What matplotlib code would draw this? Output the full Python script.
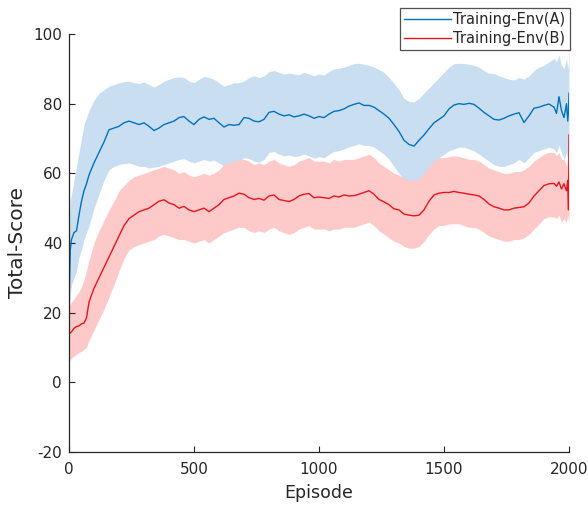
import matplotlib
matplotlib.use("Agg")
import matplotlib.pyplot as plt
import numpy as np

plt.rcParams["axes.unicode_minus"] = False

episodes = [
    0, 5, 10, 20, 30, 40, 50, 60, 70, 80,
    100, 120, 140, 160, 180, 200, 220, 240, 260, 280,
    300, 320, 340, 360, 380, 400, 420, 440, 460, 480,
    500, 520, 540, 560, 580, 600, 620, 640, 660, 680,
    700, 720, 740, 760, 780, 800, 820, 840, 860, 880,
    900, 920, 940, 960, 980, 1000, 1020, 1040, 1060, 1080,
    1100, 1120, 1140, 1160, 1180, 1200, 1220, 1240, 1260, 1280,
    1300, 1320, 1340, 1360, 1380, 1400, 1420, 1440, 1460, 1480,
    1500, 1520, 1540, 1560, 1580, 1600, 1620, 1640, 1660, 1680,
    1700, 1720, 1740, 1760, 1780, 1800, 1820, 1840, 1860, 1880,
    1900, 1920, 1940, 1950, 1960, 1970, 1980, 1990, 1995, 1998,
    2000,
]

env_a_mean = [
    22, 38, 41, 43, 43.5, 48, 52, 55, 57, 59.5,
    63, 66, 69, 72.5, 73, 73.5, 74.5, 75, 74.5, 74,
    74.5, 73.5, 72.3, 73, 74, 74.5, 75, 76, 76.3, 75,
    74, 75.5, 76.2, 75.5, 75.8, 74.5, 73.3, 74, 73.8, 74,
    76, 75.8, 75, 74.8, 75.5, 77.5, 77.8, 77, 76.5, 76.8,
    76.2, 76.5, 77, 76.5, 75.8, 76.3, 76, 77, 77.8, 78,
    78.5, 79.3, 79.8, 80.2, 79.5, 79.5, 79, 78, 77, 75.8,
    74, 72, 69.5, 68.3, 67.8, 69.5, 71, 72.8, 74.5, 75.5,
    76.5, 78.5, 79.6, 80, 79.8, 80.1, 79.8, 78.7, 77.5, 76.5,
    75.5, 75.3, 75.8, 76.5, 77, 77.4, 74.6, 76.5, 78.7, 79,
    79.5, 79.9, 79, 77.2, 82, 78, 76, 80, 75, 78,
    83,
]
env_a_upper = [
    45, 52, 54, 58, 62, 66, 70, 74, 76, 78,
    81, 83, 84, 85, 85.5, 86, 86.3, 86.5, 86, 85.8,
    86.2, 85.5, 84.8, 85.5, 86.5, 87, 87.5, 87.7, 87.5, 86.5,
    86, 87, 87.8, 87.5, 87, 86, 85, 85.5, 86, 86,
    86.5, 87.5, 88, 87.5, 88, 89.2, 89.5, 89, 88.5, 88.8,
    88.5, 88.3, 89, 88.5, 88, 88.5, 88.2, 89.3, 90, 90.2,
    90.5, 91, 91.5, 91.6, 91.3, 91, 90.5, 89.8, 89, 87.5,
    85.8, 84, 81.5, 80.6, 80.5, 81.5, 83, 84.5, 86, 87.5,
    89, 90.5, 91.5, 91.6, 91.5, 91.3, 91, 90.5, 89.5, 88.7,
    88.7, 88, 87.5, 87, 86.8, 87.5, 87, 88, 89.5, 90.5,
    91, 92, 93, 92, 94, 91, 90, 93, 90, 92,
    95,
]
env_a_lower = [
    20, 25, 28, 30, 32, 36, 38, 41, 43, 45,
    50, 54, 58, 61, 62, 62.5, 62.8, 63, 62.5, 62,
    62, 61.5, 61.8, 62, 62.5, 63, 63.5, 64, 64.2, 63.5,
    63, 63.5, 64, 63.5, 63.8, 63, 62, 62.5, 62.3, 63.3,
    64.5, 64.2, 63.5, 63.2, 64, 66, 66.3, 65.5, 65, 65.3,
    64.8, 65, 65.5, 65, 64.3, 64.8, 64.5, 65.5, 66.3, 66.5,
    67, 67.6, 68, 68.5, 68, 68, 67.5, 66.5, 65.5, 64,
    62, 60, 58, 57, 56.8, 57.5, 59, 61, 63, 64.5,
    65.5, 66.5, 67, 67.5, 67.5, 67, 66.5, 65.5, 64.5, 63.5,
    62.5, 62, 62, 62.5, 63, 64, 63, 64.5, 66, 66.5,
    67, 67.5, 67, 66, 68, 66, 64, 66, 64, 65,
    68,
]

env_b_mean = [
    14, 14.2, 14.5, 15.5, 16, 16.2, 16.8, 17, 18.5, 23,
    27, 30, 33, 36, 39, 42, 45, 47, 48, 49,
    49.5, 50, 51, 52, 52.4, 51.5, 51, 50, 50.5, 49.5,
    49, 49.5, 50, 49, 50, 51, 52.5, 53, 53.5, 54.3,
    54, 53, 52.5, 52.8, 52.3, 53.5, 53.8, 52.5, 52.2, 51.9,
    52.5, 53.5, 54, 54.2, 53, 53.2, 53, 52.8, 53.5, 53.2,
    53.8, 53.5, 53.6, 54, 54.5, 55, 54, 52.5, 51.8, 51,
    49.8, 49.5, 48.3, 48, 47.8, 48, 49.5, 52, 53.8, 54.3,
    54.5, 54.5, 54.8, 54.5, 54.3, 54, 53.8, 53.5, 52.5, 51.2,
    50.4, 50, 49.5, 49.5, 50, 50.2, 50.4, 51.5, 53.5, 55,
    56.5, 57, 57.1, 56.3, 57.5, 55.5, 57, 55, 58, 49.5,
    71,
]
env_b_upper = [
    22, 22.5, 23, 24, 25, 26, 27.5, 29.5, 32, 35,
    40, 43.5, 46.5, 49.5, 52, 55, 56.5, 58, 59, 59.5,
    60, 60.5, 61, 61.5, 62, 61.5, 61, 60, 60.5, 59.5,
    59, 59.5, 60, 59.5, 60, 61, 62.5, 63, 63.5, 64,
    64, 63.5, 62.5, 63, 62.5, 63.5, 64, 63, 62.5, 62,
    62.5, 63.5, 64, 64.5, 63.5, 63.5, 63.5, 63, 64, 63.5,
    64, 64, 64, 64.5, 65, 65.5, 64.5, 63, 62, 61,
    60, 59.5, 58.5, 58, 58, 58.5, 60, 62, 63.5, 64.5,
    64.5, 64.8, 65, 64.8, 64.5, 64, 64, 63.5, 62.5, 61.5,
    61, 60.5, 60, 60, 60.5, 60.5, 61, 62, 63.5, 64.5,
    65.5, 66, 66, 65, 66, 64, 64, 62, 64, 59,
    64,
]
env_b_lower = [
    6, 6.5, 7, 7.5, 8, 8.5, 9, 9.5, 10, 12,
    15, 18, 21, 24.5, 28, 32, 35.5, 38, 39, 39.5,
    40, 40.5, 41, 42, 42.5, 42, 41.5, 41, 41, 40.5,
    40, 40.5, 41, 40, 41, 42, 43, 43.5, 44, 44.5,
    44.5, 43.5, 43, 43.5, 43, 44, 44.5, 43.5, 43, 42.5,
    43, 44, 44.5, 45, 44, 44, 44, 43.5, 44, 44,
    44.5, 44.5, 44.5, 45, 45.5, 46, 45, 43.5, 42.5, 41.5,
    40.5, 40, 39, 38.5, 38.5, 39, 40.5, 42.5, 44, 45,
    45, 45.5, 45.5, 45.5, 45, 44.5, 44.5, 44, 43, 42,
    41.5, 41, 40.5, 40.5, 41, 41, 41.5, 42.5, 44, 45.5,
    47, 47.5, 47.5, 47, 48, 46, 47, 46, 48, 46,
    47,
]

series_labels = ["Training-Env(A)", "Training-Env(B)"]
x_ticks = [0, 500, 1000, 1500, 2000]
y_ticks = [-20, 0, 20, 40, 60, 80, 100]

blue = "#0072BD"
red = "#E8141B"
text_col = "#262626"

fig = plt.figure(figsize=(5.88, 5.08), dpi=100)
ax = fig.add_axes([69 / 588, 1 - 452 / 508, 500 / 588, 418 / 508])

ax.fill_between(episodes, env_a_lower, env_a_upper, color="#c9def0", linewidth=0)
ax.fill_between(episodes, env_b_lower, env_b_upper, color="#fdc9c9", linewidth=0)
ax.plot(episodes, env_a_mean, color=blue, linewidth=1.0, label=series_labels[0])
ax.plot(episodes, env_b_mean, color=red, linewidth=1.0, label=series_labels[1])

ax.set_xlim(0, 2000)
ax.set_ylim(-20, 100)
ax.set_xticks(x_ticks)
ax.set_yticks(y_ticks)
ax.tick_params(direction="in", length=4, width=0.8, colors=text_col, labelsize=11)
ax.tick_params(axis="x", pad=7)
ax.tick_params(axis="y", pad=5)
for s in ["top", "right"]:
    ax.spines[s].set_visible(False)
for s in ["left", "bottom"]:
    ax.spines[s].set_color(text_col)
    ax.spines[s].set_linewidth(0.9)

ax.set_xlabel("Episode", fontsize=12.5, color=text_col, va="center")
ax.xaxis.set_label_coords(0.5, (452 - 493) / 418)
ax.set_ylabel("Total-Score", fontsize=14.5, color=text_col, va="center")
ax.yaxis.set_label_coords((18 - 69) / 500, 0.5)

leg = ax.legend(loc="upper right", bbox_to_anchor=(570 / 588, 1 - 8 / 508),
                bbox_transform=fig.transFigure, fontsize=10.5, frameon=True,
                fancybox=False, edgecolor=text_col, borderpad=0.3,
                handlelength=3.2, handletextpad=0.2, labelspacing=0.25,
                borderaxespad=0)
leg.get_frame().set_linewidth(0.9)
for t in leg.get_texts():
    t.set_color(text_col)

fig.savefig("out.png", dpi=100)
